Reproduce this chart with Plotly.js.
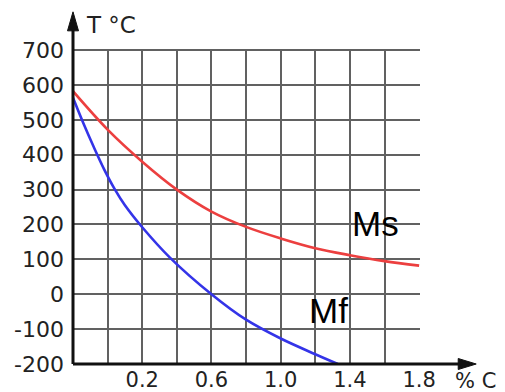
<!DOCTYPE html>
<html>
<head>
<meta charset="utf-8">
<script src="https://cdn.plot.ly/plotly-3.0.1.min.js"></script>
<style>html,body{margin:0;padding:0;background:#fff;}#chart{width:505px;height:392px;}</style>
</head>
<body>
<div id="chart"></div>
<script>
// Data
var msCarbon = [-0.2, 0.0, 0.2, 0.4, 0.6, 0.8, 1.0, 1.2, 1.4, 1.6, 1.8];
var msTemp   = [582, 472, 380, 300, 237, 193, 160, 132, 112, 95, 82];
var mfCarbon = [-0.2, -0.14, -0.08, -0.02, 0.04, 0.1, 0.2, 0.36, 0.6, 0.8, 1.0, 1.2, 1.33];
var mfTemp   = [563, 490, 422, 358, 302, 255, 192, 105, 0, -73, -127, -172, -200];
var xTickVals = [0.0, 0.2, 0.4, 0.6, 0.8, 1.0, 1.2, 1.4, 1.6, 1.8];
var xTickText = ['', '0.2', '', '0.6', '', '1.0', '', '1.4', '', '1.8'];
var yTickVals = [-200, -100, 0, 100, 200, 300, 400, 500, 600, 700];
var yTickText = ['-200', '-100', '0', '100', '200', '300', '400', '500', '600', '700'];
var yAxisTitle = 'T °C';
var xAxisTitle = '% C';
var msLabel = {text: 'Ms', x: 1.546, y: 202};
var mfLabel = {text: 'Mf', x: 1.275, y: -46};

var traces = [
  {x: msCarbon, y: msTemp, mode: 'lines', line: {color: '#ec3f3f', width: 2.6, shape: 'spline', smoothing: 1}, hoverinfo: 'skip'},
  {x: mfCarbon, y: mfTemp, mode: 'lines', line: {color: '#3434e8', width: 2.6, shape: 'spline', smoothing: 1}, hoverinfo: 'skip'}
];

var layout = {
  width: 505, height: 392,
  font: {family: 'DejaVu Sans', size: 21, color: '#222'},
  margin: {l: 73, r: 85, t: 49, b: 28},
  paper_bgcolor: '#fff', plot_bgcolor: '#fff',
  showlegend: false,
  xaxis: {
    range: [-0.2, 1.805], tickmode: 'array', tickvals: xTickVals, ticktext: xTickText,
    showgrid: true, gridcolor: '#616161', gridwidth: 2, zeroline: false,
    showline: false, ticks: '', tickfont: {family: 'DejaVu Sans', size: 21, color: '#222'}, ticklabelstandoff: 1
  },
  yaxis: {
    range: [-200, 703], tickmode: 'array', tickvals: yTickVals, ticktext: yTickText,
    showgrid: true, gridcolor: '#616161', gridwidth: 2, zeroline: false,
    showline: false, ticks: '', tickfont: {family: 'DejaVu Sans', size: 22, color: '#222'}, ticklabelstandoff: 8
  },
  shapes: [
    {type: 'line', xref: 'paper', yref: 'paper', x0: 0, x1: 0, y0: 0, y1: 1.06, line: {color: '#111', width: 3}},
    {type: 'path', xref: 'paper', yref: 'paper', xsizemode: 'pixel', ysizemode: 'pixel', xanchor: 0, yanchor: 1.118,
     path: 'M-5.5,-19 L0,0 L5.5,-19 Z', fillcolor: '#111', line: {color: '#111', width: 1}},
    {type: 'line', xref: 'paper', yref: 'paper', x0: 0, x1: 1.115, y0: 0, y1: 0, line: {color: '#111', width: 3}},
    {type: 'path', xref: 'paper', yref: 'paper', xsizemode: 'pixel', ysizemode: 'pixel', xanchor: 1.162, yanchor: 0,
     path: 'M-18,-5.5 L0,0 L-18,5.5 Z', fillcolor: '#111', line: {color: '#111', width: 1}}
  ],
  annotations: [
    {text: yAxisTitle, xref: 'paper', yref: 'paper', x: 0.032, y: 1.076, xanchor: 'left', yanchor: 'middle', showarrow: false,
     font: {family: 'DejaVu Sans', size: 23, color: '#222'}},
    {text: xAxisTitle, xref: 'paper', yref: 'paper', x: 1.095, y: -0.054, xanchor: 'left', yanchor: 'middle', showarrow: false,
     font: {family: 'DejaVu Sans', size: 21, color: '#222'}},
    {text: msLabel.text, x: msLabel.x, y: msLabel.y, xref: 'x', yref: 'y', showarrow: false, xanchor: 'center', yanchor: 'middle',
     font: {family: 'Liberation Sans', size: 35, color: '#000'}},
    {text: mfLabel.text, x: mfLabel.x, y: mfLabel.y, xref: 'x', yref: 'y', showarrow: false, xanchor: 'center', yanchor: 'middle',
     font: {family: 'Liberation Sans', size: 35, color: '#000'}}
  ]
};

Plotly.newPlot('chart', traces, layout, {displayModeBar: false, staticPlot: true});
</script>
</body>
</html>
